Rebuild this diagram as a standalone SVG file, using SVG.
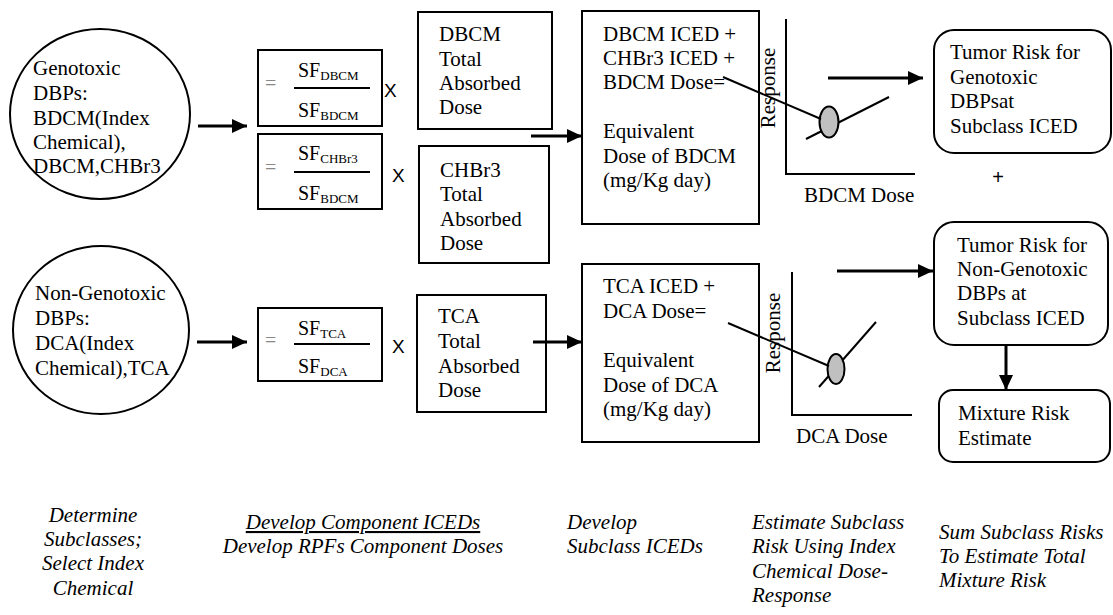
<svg xmlns="http://www.w3.org/2000/svg" width="1113" height="615" viewBox="0 0 1113 615">
<style>
text{font-family:"Liberation Serif","Times New Roman",serif;font-size:21px;fill:#000}
.sf{font-size:20px}
.sub{font-size:13px}
.eq{font-size:20px;fill:#888}
.x{font-family:"Liberation Sans",Arial,sans-serif;font-size:19px}
.plus{font-family:"Liberation Sans",Arial,sans-serif;font-size:20px}
.cap{font-style:italic;font-size:21px}
.box{fill:#fff;stroke:#000;stroke-width:2}
.thin{stroke:#000;stroke-width:2;fill:none}
.arr{stroke:#000;stroke-width:3;fill:none;marker-end:url(#ah)}
.dot{fill:#c0c0c0;stroke:#000;stroke-width:2}
</style>
<defs>
<marker id="ah" markerUnits="userSpaceOnUse" markerWidth="16" markerHeight="14" refX="15" refY="7" orient="auto">
<path d="M0,0 L15,7 L0,14 z" fill="#000"/>
</marker>
</defs>
<rect width="1113" height="615" fill="#fff"/>

<g id="genotoxic">
<ellipse cx="100" cy="114" rx="90" ry="85" class="thin"/>
<text x="33" y="75">Genotoxic</text>
<text x="33" y="100">DBPs:</text>
<text x="33" y="125">BDCM(Index</text>
<text x="33" y="149">Chemical),</text>
<text x="33" y="173">DBCM,CHBr3</text>
</g>

<g id="nongenotoxic">
<ellipse cx="101" cy="330" rx="88" ry="84" class="thin"/>
<text x="35" y="300">Non-Genotoxic</text>
<text x="35" y="325">DBPs:</text>
<text x="35" y="350">DCA(Index</text>
<text x="35" y="375">Chemical),TCA</text>
</g>

<g id="rpf-dbcm">
<rect x="258" y="50" width="124" height="76" class="box"/>
<text x="265" y="90" class="eq">=</text>
<text x="298" y="77" class="sf">SF<tspan class="sub" dy="3">DBCM</tspan></text>
<line x1="294" y1="88" x2="370" y2="88" class="thin"/>
<text x="298" y="117" class="sf">SF<tspan class="sub" dy="3">BDCM</tspan></text>
<text x="384" y="97" class="x">X</text>
</g>

<g id="rpf-chbr3">
<rect x="258" y="134" width="124" height="75" class="box"/>
<text x="265" y="174" class="eq">=</text>
<text x="298" y="160" class="sf">SF<tspan class="sub" dy="3">CHBr3</tspan></text>
<line x1="294" y1="172" x2="370" y2="172" class="thin"/>
<text x="298" y="200" class="sf">SF<tspan class="sub" dy="3">BDCM</tspan></text>
<text x="392" y="182" class="x">X</text>
</g>

<g id="rpf-tca">
<rect x="258" y="308" width="124" height="73" class="box"/>
<text x="265" y="347" class="eq">=</text>
<text x="298" y="335" class="sf">SF<tspan class="sub" dy="3">TCA</tspan></text>
<line x1="294" y1="344" x2="370" y2="344" class="thin"/>
<text x="298" y="373" class="sf">SF<tspan class="sub" dy="3">DCA</tspan></text>
<text x="392" y="353" class="x">X</text>
</g>

<g id="dbcm-dose">
<rect x="418" y="12" width="134" height="117" class="box"/>
<text x="439" y="41">DBCM</text>
<text x="439" y="66">Total</text>
<text x="439" y="90">Absorbed</text>
<text x="439" y="114">Dose</text>
</g>

<g id="chbr3-dose">
<rect x="419" y="146" width="130" height="117" class="box"/>
<text x="440" y="177">CHBr3</text>
<text x="440" y="201">Total</text>
<text x="440" y="226">Absorbed</text>
<text x="440" y="250">Dose</text>
</g>

<g id="tca-dose">
<rect x="417" y="295" width="129" height="117" class="box"/>
<text x="438" y="323">TCA</text>
<text x="438" y="348">Total</text>
<text x="438" y="373">Absorbed</text>
<text x="438" y="397">Dose</text>
</g>

<g id="iced-bdcm">
<rect x="582" y="11" width="177" height="213" class="box"/>
<text x="603" y="41">DBCM ICED +</text>
<text x="603" y="65">CHBr3 ICED +</text>
<text x="603" y="89">BDCM Dose=</text>
<text x="603" y="138">Equivalent</text>
<text x="603" y="163">Dose of BDCM</text>
<text x="603" y="187">(mg/Kg day)</text>
</g>

<g id="iced-dca">
<rect x="582" y="264" width="177" height="178" class="box"/>
<text x="603" y="293">TCA ICED +</text>
<text x="603" y="318">DCA Dose=</text>
<text x="603" y="367">Equivalent</text>
<text x="603" y="392">Dose of DCA</text>
<text x="603" y="416">(mg/Kg day)</text>
</g>

<g id="graph-bdcm">
<polyline points="786,19 786,174 915,174" class="thin"/>
<text transform="translate(775,88) rotate(-90)" text-anchor="middle">Response</text>
<text x="804" y="202">BDCM Dose</text>
<line x1="806" y1="139" x2="889" y2="97" class="thin"/>
<ellipse cx="829" cy="122" rx="9.5" ry="15.5" class="dot"/>
</g>

<g id="graph-dca">
<polyline points="792,272 792,415 912,415" class="thin"/>
<text transform="translate(780,333) rotate(-90)" text-anchor="middle">Response</text>
<text x="796" y="443">DCA Dose</text>
<line x1="819" y1="387" x2="876" y2="322" class="thin"/>
<ellipse cx="836" cy="369" rx="8.5" ry="15" class="dot"/>
</g>

<g id="risk-genotoxic">
<rect x="934" y="30" width="177" height="123" rx="20" ry="20" class="box"/>
<text x="950" y="59">Tumor Risk for</text>
<text x="950" y="84">Genotoxic</text>
<text x="950" y="108">DBPsat</text>
<text x="950" y="133">Subclass ICED</text>
</g>

<text x="998" y="184" class="plus" text-anchor="middle">+</text>

<g id="risk-nongenotoxic">
<rect x="934" y="222" width="174" height="123" rx="20" ry="20" class="box"/>
<text x="957" y="252">Tumor Risk for</text>
<text x="957" y="276">Non-Genotoxic</text>
<text x="957" y="300">DBPs at</text>
<text x="957" y="325">Subclass ICED</text>
</g>

<g id="mixture-risk">
<rect x="939" y="390" width="171" height="72" rx="14" ry="14" class="box"/>
<text x="958" y="420">Mixture Risk</text>
<text x="958" y="445">Estimate</text>
</g>

<g id="connectors">
<line x1="198" y1="126" x2="247" y2="126" class="arr"/>
<line x1="197" y1="342" x2="247" y2="342" class="arr"/>
<line x1="531" y1="136" x2="582" y2="136" class="arr"/>
<line x1="533" y1="342" x2="582" y2="342" class="arr"/>
<line x1="828" y1="78" x2="923" y2="78" class="arr"/>
<line x1="837" y1="271" x2="933" y2="271" class="arr"/>
<line x1="1006" y1="345" x2="1006" y2="390" class="arr"/>
<line x1="723" y1="77" x2="821" y2="119" class="thin"/>
<line x1="728" y1="323" x2="829" y2="366" class="thin"/>
</g>

<g id="captions">
<text class="cap" x="93" y="522" text-anchor="middle">Determine</text>
<text class="cap" x="93" y="546" text-anchor="middle">Subclasses;</text>
<text class="cap" x="93" y="570" text-anchor="middle">Select Index</text>
<text class="cap" x="93" y="595" text-anchor="middle">Chemical</text>
<text class="cap" x="363" y="529" text-anchor="middle" text-decoration="underline">Develop Component ICEDs</text>
<text class="cap" x="363" y="553" text-anchor="middle">Develop RPFs Component Doses</text>
<text class="cap" x="567" y="529">Develop</text>
<text class="cap" x="567" y="553">Subclass ICEDs</text>
<text class="cap" x="752" y="529">Estimate Subclass</text>
<text class="cap" x="752" y="553">Risk Using Index</text>
<text class="cap" x="752" y="578">Chemical Dose-</text>
<text class="cap" x="752" y="602">Response</text>
<text class="cap" x="939" y="539">Sum Subclass Risks</text>
<text class="cap" x="939" y="563">To Estimate Total</text>
<text class="cap" x="939" y="587">Mixture Risk</text>
</g>
</svg>
